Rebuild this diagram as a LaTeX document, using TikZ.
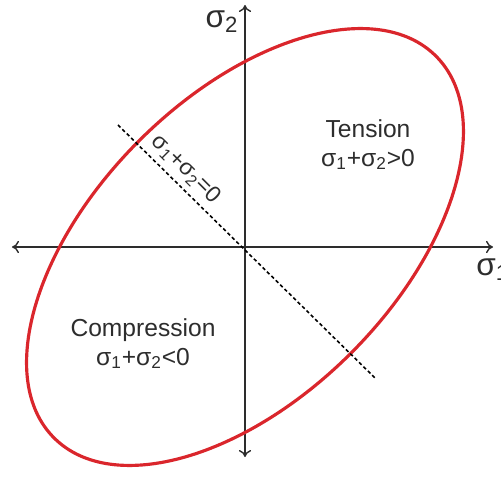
\documentclass[tikz,border=0pt]{standalone}
\usepackage{fontspec}
\setmainfont{Liberation Sans}
\usepackage{xcolor}
\usepackage{tikz}
\usetikzlibrary{arrows.meta,positioning}

\definecolor{ellred}{RGB}{218,38,44}
\definecolor{axisgray}{RGB}{45,45,45}

\begin{document}
\begin{tikzpicture}[
  axis/.style={{To[length=4pt,width=7pt]}-{To[length=4pt,width=7pt]}, draw=axisgray, line width=0.8pt},
  ell/.style={draw=ellred, line width=1.8pt},
  zero/.style={draw=black, dashed, dash pattern=on 2pt off 1.5pt, line width=0.9pt},
  lbl/.style={font=\fontsize{14}{16}\selectfont, align=center, text=axisgray},
  axlbl/.style={font=\fontsize{18}{20}\selectfont, text=axisgray, inner sep=0pt}
]
  \useasboundingbox (-4.9,-4.7) rectangle (5.12,4.94);
  % axes
  \coordinate (W) at (-4.66,0);
  \coordinate (E) at (4.96,0);
  \coordinate (S) at (0,-4.2);
  \coordinate (N) at (0,4.84);
  \draw[axis] (W) -- (E);
  \draw[axis] (S) -- (N);
  % failure ellipse
  \draw[ell] (0,0) ellipse[x radius=5.4cm, y radius=3.0cm, rotate=45];
  % line sigma1+sigma2=0
  \coordinate (P) at (-2.54,2.44);
  \coordinate (Q) at (2.6,-2.62);
  \draw[zero] (P) -- (Q);
  \node[axlbl] (s2) at (-0.46,4.5) {σ\textsubscript{2}};
  \node[axlbl, anchor=west] (s1) at (4.62,-0.45) {σ\textsubscript{1}};
  \node[lbl] (ten) at (2.46,2.04) {Tension\\σ\textsubscript{1}+σ\textsubscript{2}>0};
  \node[lbl] (comp) at (-2.04,-1.94) {Compression\\σ\textsubscript{1}+σ\textsubscript{2}<0};
  \node[lbl, font=\fontsize{13}{15}\selectfont, rotate=-45, inner sep=0pt] (zl) at (-1.18,1.56) {σ\textsubscript{1}+σ\textsubscript{2}=0};
\end{tikzpicture}
\end{document}
